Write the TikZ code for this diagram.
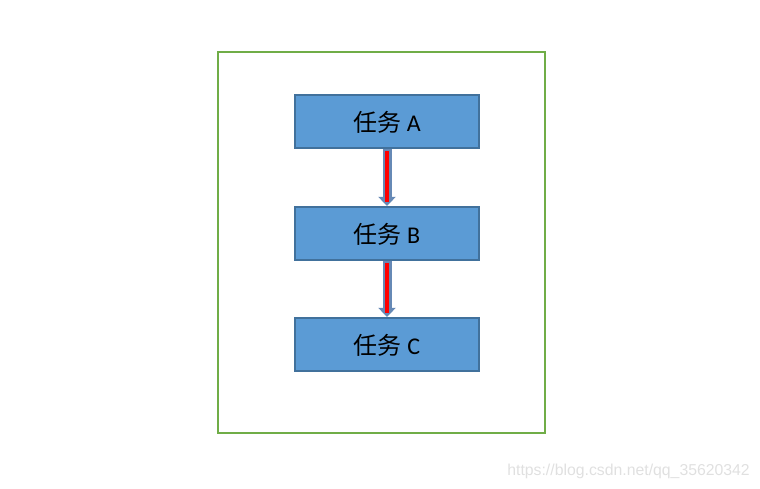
\documentclass[tikz,border=0pt]{standalone}
\usepackage{fontspec}
\setmainfont{Carlito}
\newfontfamily\cjk{Noto Sans CJK SC}
\newfontfamily\wmfont{Liberation Sans}
\usetikzlibrary{arrows.meta}

\definecolor{taskfill}{HTML}{5B9BD5}
\definecolor{taskline}{HTML}{41719C}
\definecolor{framegreen}{HTML}{70AD47}
\definecolor{arrowline}{HTML}{6689B5}

\tikzset{
	taskbox/.style={draw=taskline, line width=2.2pt, fill=taskfill, minimum width=184pt, minimum height=53pt, inner sep=0pt, text depth=-3pt},
	arrowout/.style={draw=arrowline, line width=9pt, -{Triangle[width=17pt,length=9pt]}},
	arrowin/.style={draw=red, line width=4.5pt, shorten <=2pt, shorten >=4pt}
}

\begin{document}
\begin{tikzpicture}[x=1pt,y=-1pt]
	\useasboundingbox (0,0) rectangle (760,488);

	%FRAME
	\draw[framegreen, line width=2.8pt] (218,52) rectangle (545,433);

	%TASKS
	\node[taskbox] (taskA) at (387,121.5) {\fontsize{24}{28}\selectfont{\cjk 任务} A};
	\node[taskbox] (taskB) at (387,233.5) {\fontsize{24}{28}\selectfont{\cjk 任务} B};
	\node[taskbox] (taskC) at (387,344.5) {\fontsize{24}{28}\selectfont{\cjk 任务} C};

	%ARROWS
	\foreach \s/\t in {taskA/taskB,taskB/taskC}{
		\draw[arrowout] (\s.south) -- (\t.north); %outline
		\draw[arrowin] (\s.south) -- (\t.north); %red core
	}

	%WATERMARK
	\node[anchor=base east, text=black!12, font=\wmfont\fontsize{15.8}{18}\selectfont, inner sep=0pt] (mark) at (750,475) {https://blog.csdn.net/qq\_35620342};
\end{tikzpicture}
\end{document}
